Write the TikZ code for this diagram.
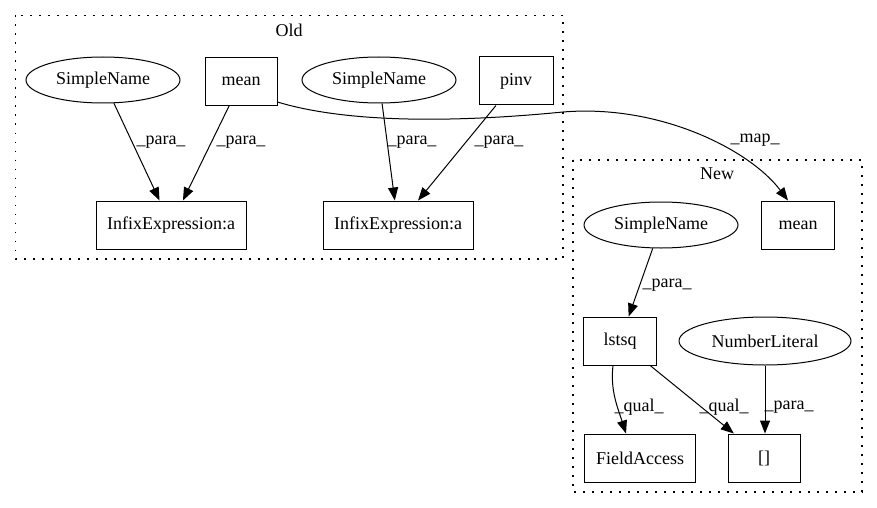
\documentclass[tikz,border=0pt]{standalone}
\usepackage{fontspec}
\setmainfont{Liberation Serif}
\usetikzlibrary{shapes,arrows.meta}

\begin{document}
\begin{tikzpicture}[x=1pt, y=-1pt, font=\fontsize{18}{21}\selectfont,
        box/.style={draw, rectangle, line width=1pt, minimum height=48pt, inner sep=0pt},
        oval/.style={draw, ellipse, line width=1pt, minimum width=154pt, minimum height=46pt, inner sep=0pt},
        edge/.style={-{Triangle[length=13pt,width=10pt]}, line width=1pt},
        cluster/.style={line width=1.4pt, dash pattern=on 1.6pt off 7.4pt},
        lbl/.style={inner sep=0pt}]
        \useasboundingbox (0,0) rectangle (877,508);
        % Draw clusters
        \draw [cluster] (15.5,15.5) rectangle (563,259);
        \node (old) at (289,30) {Old};
        \draw [cluster] (573,160) rectangle (862,492);
        \node (new) at (717,174) {New};
        % Old nodes
        \node [oval] (sn1) at (103,80) {SimpleName};
        \node [box, minimum width=72pt] (mean1) at (241,81.5) {mean};
        \node [oval] (sn2) at (379,80) {SimpleName};
        \node [box, minimum width=74pt] (pinv) at (516,81) {pinv};
        \node [box, minimum width=150pt] (inf1) at (171,225) {InfixExpression:a};
        \node [box, minimum width=150pt] (inf2) at (398,225) {InfixExpression:a};
        % New nodes
        \node [oval] (sn3) at (661,225) {SimpleName};
        \node [box, minimum width=73pt] (mean2) at (798,225) {mean};
        \node [box, minimum width=73pt] (ls) at (620,341) {lstsq};
        \node [oval, minimum width=172pt, minimum height=48pt] (nl) at (765,341) {NumberLiteral};
        \node [box, minimum width=111pt] (fa) at (640,458) {FieldAccess};
        \node [box, minimum width=72pt] (br) at (764,458) {[]};
        % Edges
        \draw [edge] (sn1) -- (inf1);
        \draw [edge] (mean1) -- (inf1);
        \draw [edge] (sn2) -- (inf2);
        \draw [edge] (pinv) -- (inf2);
        \draw [edge] ([yshift=-20.5pt]mean1.east) .. controls (330,118) and (420,126) .. (563,112)
                .. controls (660,104) and (750,150) .. ([xshift=-10pt]mean2.north);
        \draw [edge] (sn3) -- (ls);
        \draw [edge] ([xshift=-7pt]ls.south) .. controls +(-3,25) and +(-8,-25) .. ([xshift=-14pt]fa.north);
        \draw [edge] (ls) -- (br);
        \draw [edge] (nl.south) -- (nl.south |- br.north);
        % Edge labels
        \node [lbl] (p1) at (161,142) {\_para\_};
        \node [lbl] (p2) at (241,142) {\_para\_};
        \node [lbl] (p3) at (412,142) {\_para\_};
        \node [lbl] (p4) at (499,142) {\_para\_};
        \node [lbl] (map) at (755,140) {\_map\_};
        \node [lbl] (p5) at (667,285) {\_para\_};
        \node [lbl] (q1) at (639,407) {\_qual\_};
        \node [lbl] (q2) at (724,407) {\_qual\_};
        \node [lbl] (p6) at (789,407) {\_para\_};
\end{tikzpicture}
\end{document}
